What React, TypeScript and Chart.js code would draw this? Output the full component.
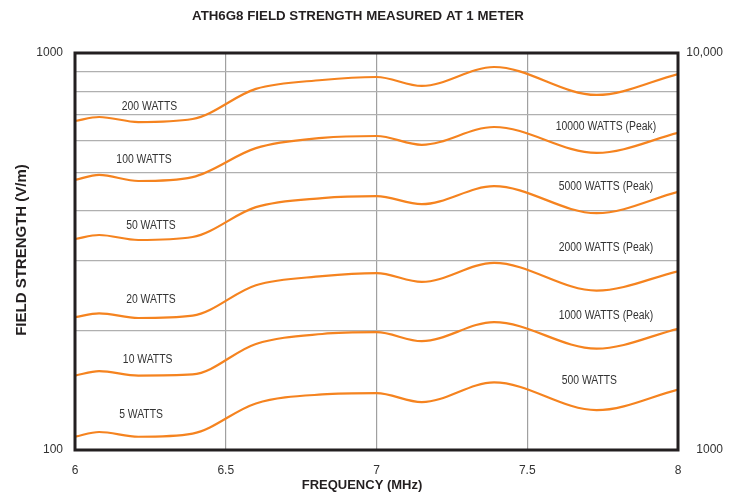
import React, { useEffect, useRef } from "react";
import { Chart, registerables } from "chart.js";

Chart.register(...registerables);

// Frequency (MHz) sample points
const FREQ = [6.0, 6.08, 6.21, 6.39, 6.6, 6.82, 7.0, 7.15, 7.39, 7.73, 8.0];
// Field strength (V/m) per power level (left axis)
const W200 = [674, 690, 670, 682, 812, 855, 870, 826, 922, 784, 885];
const W100 = [479, 493, 476, 487, 576, 611, 618, 587, 651, 560, 629];
const W50 = [340, 348, 338, 344, 409, 431, 436, 416, 462, 395, 447];
const W20 = [216, 221, 215, 218, 260, 274, 279, 265, 296, 252, 282];
const W10 = [154, 158, 154, 155, 185, 196, 198, 188, 210, 180, 202];
const W5 = [108, 111, 108, 110, 131, 138, 139, 132, 148, 126, 142];

const SERIES = [W200, W100, W50, W20, W10, W5];

// Curve annotations (positions in data units of the left axis)
const LEFT_LABELS = ["200 WATTS", "100 WATTS", "50 WATTS", "20 WATTS", "10 WATTS", "5 WATTS"];
const LEFT_LABEL_X = [6.247, 6.229, 6.252, 6.252, 6.241, 6.219];
const LEFT_LABEL_Y = [735, 540, 367, 240, 169, 123];
const RIGHT_LABELS = [
  "10000 WATTS (Peak)",
  "5000 WATTS (Peak)",
  "2000 WATTS (Peak)",
  "1000 WATTS (Peak)",
  "500 WATTS",
];
const RIGHT_LABEL_X = [7.761, 7.761, 7.761, 7.761, 7.706];
const RIGHT_LABEL_Y = [652, 461, 323, 218, 149.5];

const X_TICKS = [6, 6.5, 7, 7.5, 8];
const Y_GRID = [100, 200, 300, 400, 500, 600, 700, 800, 900, 1000];
const LEFT_TICK_LABELS = [100, 1000];
const RIGHT_TICKS = [1000, 10000];

const TITLE = "ATH6G8 FIELD STRENGTH MEASURED AT 1 METER";
const X_TITLE = "FREQUENCY (MHz)";
const Y_TITLE = "FIELD STRENGTH (V/m)";

const ORANGE = "#F5831F";
const SANS = "'Liberation Sans', Arial, Helvetica, sans-serif";

export default function App() {
  const ref = useRef<HTMLCanvasElement | null>(null);

  useEffect(() => {
    if (!ref.current) return;

    const decor = {
      id: "decor",
      afterDatasetsDraw(chart: any) {
        const { ctx, chartArea, scales } = chart;
        const xs = scales.x;
        const ys = scales.y;
        ctx.save();
        // frame
        ctx.strokeStyle = "#231f20";
        ctx.lineWidth = 3;
        ctx.strokeRect(chartArea.left, chartArea.top, chartArea.right - chartArea.left, chartArea.bottom - chartArea.top);
        // curve labels (condensed look)
        ctx.fillStyle = "#333333";
        ctx.font = `12.5px ${SANS}`;
        ctx.textAlign = "center";
        ctx.textBaseline = "middle";
        const drawNarrow = (t: string, x: number, y: number) => {
          ctx.save();
          ctx.translate(x, y);
          ctx.scale(0.83, 1);
          ctx.fillText(t, 0, 0);
          ctx.restore();
        };
        LEFT_LABELS.forEach((t, i) => {
          drawNarrow(t, xs.getPixelForValue(LEFT_LABEL_X[i]), ys.getPixelForValue(LEFT_LABEL_Y[i]));
        });
        RIGHT_LABELS.forEach((t, i) => {
          drawNarrow(t, xs.getPixelForValue(RIGHT_LABEL_X[i]), ys.getPixelForValue(RIGHT_LABEL_Y[i]));
        });
        // titles
        ctx.fillStyle = "#231f20";
        ctx.font = `bold 13.3px ${SANS}`;
        ctx.fillText(TITLE, 358, 16);
        ctx.font = `bold 13px ${SANS}`;
        ctx.fillText(X_TITLE, 362, 485);
        ctx.translate(22, 250);
        ctx.rotate(-Math.PI / 2);
        ctx.font = `bold 15px ${SANS}`;
        ctx.fillText(Y_TITLE, 0, 0);
        ctx.restore();
      },
    };

    const chart = new Chart(ref.current, {
      type: "line",
      data: {
        datasets: SERIES.map((s, i) => ({
          label: LEFT_LABELS[i],
          data: FREQ.map((f, j) => ({ x: f, y: s[j] })),
          borderColor: ORANGE,
          borderWidth: 2.2,
          pointRadius: 0,
          fill: false,
          cubicInterpolationMode: "monotone" as const,
          yAxisID: "y",
        })),
      },
      options: {
        animation: false,
        responsive: true,
        maintainAspectRatio: false,
        layout: { padding: { top: 53, right: 12, bottom: 0, left: 0 } },
        plugins: {
          legend: { display: false },
          tooltip: { enabled: false },
          title: { display: false },
        },
        scales: {
          x: {
            type: "linear",
            min: 6,
            max: 8,
            afterBuildTicks: (scale: any) => {
              scale.ticks = X_TICKS.map((v) => ({ value: v }));
            },
            afterFit: (scale: any) => {
              scale.height = 51;
            },
            ticks: {
              padding: 13,
              color: "#333333",
              font: { family: SANS, size: 12 },
              callback: (v: any) => String(v),
              maxRotation: 0,
              autoSkip: false,
            },
            grid: { color: "#a0a0a0", lineWidth: 1.2, drawTicks: false },
            border: { display: false },
          },
          y: {
            type: "logarithmic",
            position: "left",
            min: 100,
            max: 1000,
            afterBuildTicks: (scale: any) => {
              scale.ticks = Y_GRID.map((v) => ({ value: v }));
            },
            afterFit: (scale: any) => {
              scale.width = 75;
            },
            ticks: {
              padding: 12,
              color: "#333333",
              font: { family: SANS, size: 12 },
              autoSkip: false,
              callback: (v: any) => (LEFT_TICK_LABELS.includes(Number(v)) ? String(v) : ""),
            },
            grid: { color: "#b0b0b0", lineWidth: 1.2, drawTicks: false },
            border: { display: false },
          },
          y2: {
            type: "logarithmic",
            position: "right",
            min: 1000,
            max: 10000,
            afterBuildTicks: (scale: any) => {
              scale.ticks = RIGHT_TICKS.map((v) => ({ value: v }));
            },
            afterFit: (scale: any) => {
              scale.width = 45;
            },
            ticks: {
              padding: 12,
              crossAlign: "far",
              color: "#333333",
              font: { family: SANS, size: 12 },
              autoSkip: false,
              callback: (v: any) => (Number(v) === 10000 ? "10,000" : String(v)),
            },
            grid: { display: false, drawTicks: false },
            border: { display: false },
          },
        },
      },
      plugins: [decor],
    });

    return () => chart.destroy();
  }, []);

  return (
    <div style={{ position: "fixed", left: 0, top: 0, width: 735, height: 501, background: "#ffffff" }}>
      <canvas ref={ref} />
    </div>
  );
}
